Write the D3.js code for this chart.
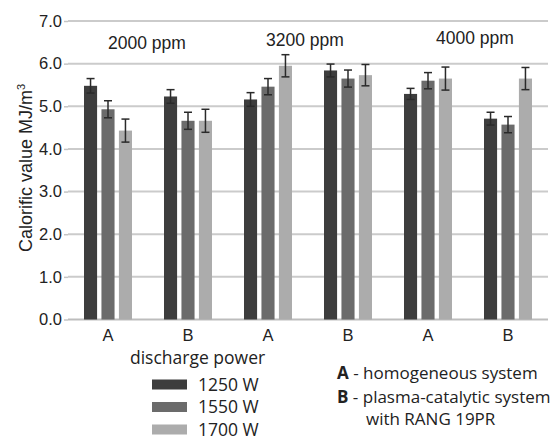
<!DOCTYPE html>
<html lang="en">
<head>
<meta charset="UTF-8">
<script src="https://d3js.org/d3.v7.min.js"></script>
<title>Calorific value</title>
<style>
  body { margin: 0; background: #fff; }
  svg { display: block; }
  .ax { font-family: "Liberation Sans", Arial, sans-serif; fill: #222; }
  .lg { font-family: "Open Sans", sans-serif; fill: #222; }
</style>
</head>
<body>
<svg width="558" height="439"></svg>
<script>
// categories on the x axis (system A / B for each concentration)
const categories = ["A", "B", "A", "B", "A", "B"]
const concentrations = ["2000 ppm", "3200 ppm", "4000 ppm"]
const series = ["1250 W", "1550 W", "1700 W"]
const colors = ["#3d3d3d", "#6b6b6b", "#acacac"]

// calorific value, one array per discharge power
const v1250 = [5.48, 5.23, 5.16, 5.84, 5.29, 4.71]
const v1550 = [4.93, 4.66, 5.46, 5.65, 5.60, 4.57]
const v1700 = [4.43, 4.66, 5.95, 5.73, 5.65, 5.65]
// error bar half-width
const e1250 = [0.17, 0.16, 0.16, 0.15, 0.13, 0.15]
const e1550 = [0.20, 0.20, 0.19, 0.20, 0.19, 0.19]
const e1700 = [0.27, 0.27, 0.26, 0.25, 0.27, 0.26]
const yTicks = [0, 1, 2, 3, 4, 5, 6, 7]

const values = [v1250, v1550, v1700]
const errors = [e1250, e1550, e1700]

const svg = d3.select("svg")
const mLeft = 68, mRight = 548, mTop = 21, mBottom = 319.5

const x0 = d3.scaleBand().domain(d3.range(categories.length)).range([mLeft, mRight])
const x1 = d3.scaleBand().domain(series).range([16, 64]).paddingInner(0.25)
const y = d3.scaleLinear().domain([0, 7]).range([mBottom, mTop])

// grid + y axis
const yAxis = svg.append("g").attr("transform", `translate(${mLeft},0)`)
  .call(d3.axisLeft(y).tickValues(yTicks).tickFormat(d3.format(".1f")).tickSize(4).tickPadding(2))
yAxis.select(".domain").remove()
yAxis.selectAll("line").attr("stroke", "#c4c4c4").attr("stroke-width", 1.5)
yAxis.selectAll("text").attr("class", "ax").style("font-size", "16.5px").attr("fill", "#222")

svg.append("g").selectAll("line").data(yTicks).enter().append("line")
  .attr("x1", mLeft).attr("x2", mRight)
  .attr("y1", d => y(d)).attr("y2", d => y(d))
  .attr("stroke", d => d === 0 ? "#bdbdbd" : "#cbcbcb").attr("stroke-width", 2)

// bars
const flat = []
categories.forEach((c, i) => series.forEach((s, j) => {
  flat.push({i, s, j, v: values[j][i], e: errors[j][i]})
}))

const g = svg.append("g")
g.selectAll("rect").data(flat).enter().append("rect")
  .attr("x", d => x0(d.i) + x1(d.s))
  .attr("width", x1.bandwidth())
  .attr("y", d => y(d.v))
  .attr("height", d => y(0) - y(d.v))
  .attr("fill", d => colors[d.j])

// error bars
const eb = g.selectAll("g.err").data(flat).enter().append("g").attr("class", "err")
  .attr("stroke", "#2a2a2a").attr("stroke-width", 1.5)
const cx = d => x0(d.i) + x1(d.s) + x1.bandwidth() / 2
eb.append("line").attr("x1", cx).attr("x2", cx)
  .attr("y1", d => y(d.v + d.e)).attr("y2", d => y(d.v - d.e))
eb.append("line").attr("x1", d => cx(d) - 4).attr("x2", d => cx(d) + 4)
  .attr("y1", d => y(d.v + d.e)).attr("y2", d => y(d.v + d.e))
eb.append("line").attr("x1", d => cx(d) - 4).attr("x2", d => cx(d) + 4)
  .attr("y1", d => y(d.v - d.e)).attr("y2", d => y(d.v - d.e))

// category labels
svg.append("g").selectAll("text").data(categories).enter().append("text")
  .attr("class", "ax").style("font-size", "16.5px")
  .attr("x", (d, i) => x0(i) + x0.bandwidth() / 2).attr("y", 341)
  .attr("text-anchor", "middle").text(d => d)

// concentration labels over each A/B pair
const concY = [49, 46, 44]
const concDx = [-1, -3, 7]
svg.append("g").selectAll("text").data(concentrations).enter().append("text")
  .attr("class", "ax").style("font-size", "17.5px")
  .attr("x", (d, k) => x0(2 * k + 1) + concDx[k]).attr("y", (d, k) => concY[k])
  .attr("text-anchor", "middle").text(d => d)

// y title
const yt = svg.append("text").attr("class", "ax").style("font-size", "18px")
  .attr("transform", "translate(32,168) rotate(-90)").attr("text-anchor", "middle")
yt.append("tspan").text("Calorific value MJ/m")
yt.append("tspan").attr("dy", -7).style("font-size", "11px").text("3")

// legend: discharge power
svg.append("text").attr("class", "lg").style("font-size", "17.5px")
  .attr("x", 130).attr("y", 364).text("discharge power")
const lg = svg.append("g").selectAll("g").data(series).enter().append("g")
  .attr("transform", (d, j) => `translate(152,${384.5 + j * 22.5})`)
lg.append("rect").attr("x", 0).attr("y", -5).attr("width", 35).attr("height", 10)
  .attr("fill", (d, j) => colors[j])
lg.append("text").attr("class", "lg").style("font-size", "17.5px")
  .attr("x", 46).attr("y", 6).text(d => d)

// legend: system descriptions
const desc = svg.append("g").attr("class", "lg").style("font-size", "17px")
const l1 = desc.append("text").attr("x", 337).attr("y", 379)
l1.append("tspan").attr("font-weight", "bold").text("A")
l1.append("tspan").text(" - homogeneous system")
const l2 = desc.append("text").attr("x", 337).attr("y", 403)
l2.append("tspan").attr("font-weight", "bold").text("B")
l2.append("tspan").text(" - plasma-catalytic system")
desc.append("text").attr("x", 366).attr("y", 425).text("with RANG 19PR")
</script>
</body>
</html>
